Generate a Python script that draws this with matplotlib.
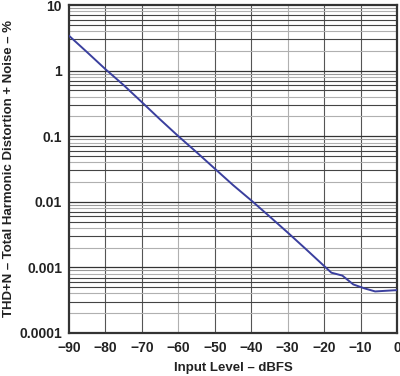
import matplotlib
matplotlib.use("Agg")
import matplotlib.pyplot as plt
import numpy as np
from matplotlib.ticker import FixedLocator, FuncFormatter

plt.rcParams['font.family'] = ['Liberation Sans', 'DejaVu Sans']

# THD+N vs input level
level_dbfs = [-90, -85, -80, -75, -70, -65, -60, -55, -50, -45, -40, -35, -30,
              -25, -20, -18, -15, -12, -9, -6, -3, 0]
thd_pct = [3.4, 1.9, 1.05, 0.6, 0.33, 0.18, 0.1, 0.057, 0.032, 0.018, 0.0105,
           0.006, 0.0034, 0.0019, 0.00105, 0.00083, 0.00075, 0.00055, 0.00048,
           0.00043, 0.00044, 0.00045]

x_ticks = [-90, -80, -70, -60, -50, -40, -30, -20, -10, 0]
y_ticks = [10, 1, 0.1, 0.01, 0.001, 0.0001]
y_tick_labels = ['10', '1', '0.1', '0.01', '0.001', '0.0001']

fig = plt.figure(figsize=(4.0, 3.76), dpi=100)
ax = fig.add_axes([0.1725, 0.1144, 0.82, 0.8723])

ax.set_yscale('log')
ax.set_xlim(-90, 0)
ax.set_ylim(0.0001, 10)

# grid: vertical lines, some darker some lighter
light_x = [-60, -30]
for xv in x_ticks[1:-1]:
    ax.axvline(xv, color='#b0b0b0' if xv in light_x else '#555555', lw=0.8, zorder=1)

# horizontal grid: decades dark, minors alternate dark/light
minor_col = {2: '#b0b0b0', 3: '#444444', 4: '#b0b0b0', 5: '#444444',
             6: '#444444', 7: '#444444', 8: '#b0b0b0', 9: '#999999'}
for dec in [0.0001, 0.001, 0.01, 0.1, 1]:
    for m in range(2, 10):
        ax.axhline(dec * m, color=minor_col[m], lw=0.8, zorder=1)
    if dec > 0.0001:
        ax.axhline(dec, color='#333333', lw=0.9, zorder=1)

ax.plot(level_dbfs, thd_pct, color='#3a3f9e', lw=1.4, zorder=3)

ax.xaxis.set_major_locator(FixedLocator(x_ticks))
ax.xaxis.set_major_formatter(FuncFormatter(lambda v, p: '%d' % v if v >= 0 else '\u2212%d' % -v))
ax.yaxis.set_major_locator(FixedLocator(y_ticks))
ax.yaxis.set_minor_locator(FixedLocator([]))
ax.set_yticklabels(y_tick_labels)

ax.tick_params(axis='both', which='both', length=0, labelsize=10, pad=6)
ax.tick_params(axis='y', pad=5)
for lab in ax.get_xticklabels() + ax.get_yticklabels():
    lab.set_fontweight('bold')
    lab.set_color('#222222')

for s in ax.spines.values():
    s.set_linewidth(1.6)
    s.set_color('#333333')

ax.set_xlabel('Input Level \u2013 dBFS', fontsize=9.5, fontweight='bold', color='#222222', labelpad=5)
ax.set_ylabel('THD+N \u2013 Total Harmonic Distortion + Noise \u2013 %', fontsize=9.5,
              fontweight='bold', color='#222222', labelpad=3)

fig.savefig('out.png', dpi=100)
